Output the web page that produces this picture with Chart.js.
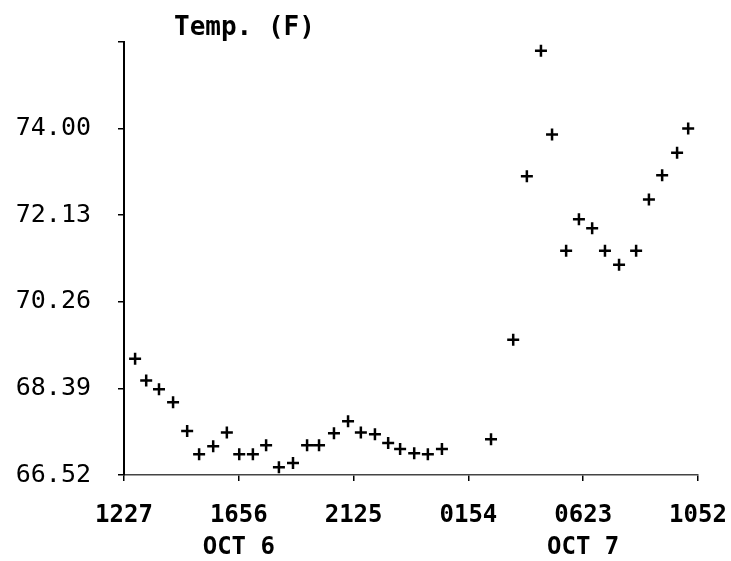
<!DOCTYPE html>
<html>
<head>
<meta charset="utf-8">
<script src="https://cdn.jsdelivr.net/npm/chart.js@4"></script>
<style>
  html, body { margin: 0; padding: 0; background: #fff; }
  #wrap { width: 731px; height: 561px; }
</style>
</head>
<body>
<div id="wrap"><canvas id="tempchart" width="731" height="561"></canvas></div>
<script>
// minutes since 12:27 on Oct 6
const minutes = [26, 52, 82, 115, 148, 176, 209, 241, 270, 302, 333, 363, 396, 429, 457,
    492, 525, 555, 588, 619, 647, 680, 712, 745, 860, 912, 944, 977, 1003, 1036,
    1066, 1097, 1127, 1160, 1200, 1230, 1261, 1296, 1322]
const temps = [69.03, 68.56, 68.37, 68.09, 67.47, 66.97, 67.14, 67.44, 66.97, 66.97, 67.16, 66.69, 66.78, 67.16, 67.16,
    67.42, 67.68, 67.44, 67.40, 67.21, 67.08, 66.99, 66.97, 67.08, 67.29, 69.44, 72.97, 75.68, 73.87, 71.36,
    72.04, 71.85, 71.36, 71.06, 71.36, 72.47, 72.99, 73.48, 74.00]

const xTicks = [0, 269, 538, 807, 1076, 1345]
const xTickLabels = ['1227', '1656', '2125', '0154', '0623', '1052']
const xDayLabels = ['', 'OCT 6', '', '', 'OCT 7', '']
const yTicks = [66.52, 68.39, 70.26, 72.13, 74.00, 75.87]
const yTickLabels = ['66.52', '68.39', '70.26', '72.13', '74.00', '']

const points = []
for (let i = 0; i < minutes.length; i++) {
    points.push({x: minutes[i], y: temps[i]})
}

// title sits over the y axis, not centred on the canvas
const axisTitle = {
    id: 'axisTitle',
    afterDraw(chart) {
        const c = chart.ctx
        c.save()
        c.font = 'bold 26px "DejaVu Sans Mono"'
        c.fillStyle = '#000'
        c.textAlign = 'left'
        c.textBaseline = 'alphabetic'
        c.fillText('Temp. (F)', chart.chartArea.left + 50, 35)
        c.restore()
    }
}

const ctx = document.getElementById('tempchart')
window.chart = new Chart(ctx, {
    type: 'scatter',
    data: {
        datasets: [{
            label: 'Temp',
            data: points,
            pointStyle: 'cross',
            pointRadius: 6,
            pointBorderWidth: 2.5,
            borderColor: '#000',
            backgroundColor: '#000'
        }]
    },
    options: {
        responsive: false,
        animation: false,
        layout: {padding: {top: 42, right: 33, left: 0, bottom: 0}},
        plugins: {
            legend: {display: false},
            tooltip: {enabled: false}
        },
        scales: {
            x: {
                type: 'linear',
                min: 0,
                max: 1345,
                afterBuildTicks: function (axis) {
                    axis.ticks = xTicks.map(v => ({value: v}))
                },
                afterFit: function (scale) {
                    scale.height = 86
                    scale.paddingLeft = 0
                    scale.paddingRight = 0
                },
                ticks: {
                    autoSkip: false,
                    maxRotation: 0,
                    padding: 19,
                    color: '#000',
                    font: {family: 'DejaVu Sans Mono', size: 24, weight: 'bold', lineHeight: 1.33},
                    callback: function (value) {
                        const i = xTicks.indexOf(value)
                        if (i < 0) return ''
                        return xDayLabels[i] ? [xTickLabels[i], xDayLabels[i]] : xTickLabels[i]
                    }
                },
                grid: {drawOnChartArea: false, tickLength: 6, color: '#000', lineWidth: 1.5},
                border: {color: '#444', width: 1.5}
            },
            y: {
                type: 'linear',
                min: 66.52,
                max: 75.87,
                afterBuildTicks: function (axis) {
                    axis.ticks = yTicks.map(v => ({value: v}))
                },
                afterFit: function (scale) {
                    scale.width = 124
                    scale.paddingTop = 0
                    scale.paddingBottom = 0
                },
                ticks: {
                    padding: 27,
                    color: '#000',
                    font: {family: 'DejaVu Sans Mono', size: 25},
                    callback: function (value) {
                        const i = yTicks.indexOf(value)
                        return i < 0 ? '' : yTickLabels[i]
                    }
                },
                grid: {drawOnChartArea: false, tickLength: 6, color: '#000', lineWidth: 1.5},
                border: {color: '#000', width: 2}
            }
        }
    },
    plugins: [axisTitle]
})
</script>
</body>
</html>
